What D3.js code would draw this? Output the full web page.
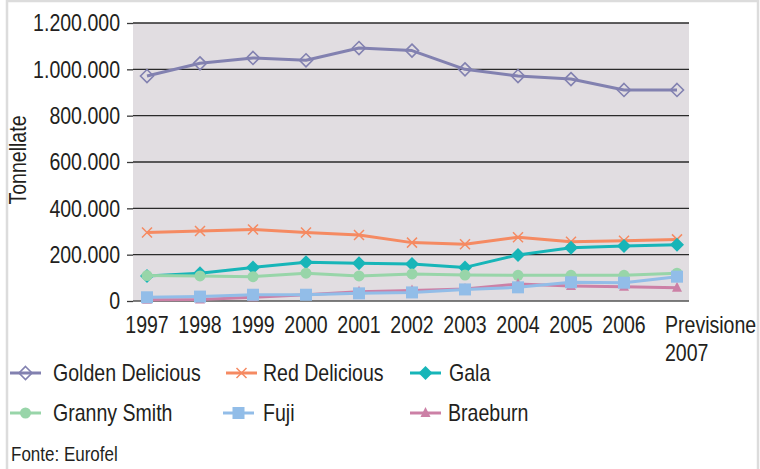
<!DOCTYPE html>
<html><head><meta charset="utf-8">
<script src="https://cdn.jsdelivr.net/npm/d3@7"></script>
<style>
body{margin:0;background:#fff;}
text{font-family:"Liberation Sans",Arial,sans-serif;fill:#231f20;}
</style></head><body>
<svg id="c" width="760" height="469"></svg>
<script>
const categories = ["1997","1998","1999","2000","2001","2002","2003","2004","2005","2006","Previsione 2007"];
const goldenDelicious = [971,1026,1049,1039,1092,1081,1000,971,958,911,911];
const redDelicious    = [296,302,309,296,285,252,245,275,256,260,266];
const gala            = [108,120,145,167,163,160,145,199,230,237,243];
const grannySmith     = [110,108,105,120,108,117,112,111,111,111,120];
const fuji            = [16,19,27,27,33,37,50,59,81,79,105];
const braeburn        = [5,7,16,27,40,45,52,73,65,62,57];
const yTicks = [0,200,400,600,800,1000,1200];
const yTitle = "Tonnellate";
const source = "Fonte: Eurofel";

const series = [
  {name:"Golden Delicious", values:goldenDelicious, color:"#8281b0", marker:"diamondOpen"},
  {name:"Red Delicious", values:redDelicious, color:"#f58a62", marker:"cross"},
  {name:"Gala", values:gala, color:"#17b5b8", marker:"diamond"},
  {name:"Granny Smith", values:grannySmith, color:"#98d5a9", marker:"circle"},
  {name:"Braeburn", values:braeburn, color:"#cc80a6", marker:"triangle"},
  {name:"Fuji", values:fuji, color:"#92bde8", marker:"square"}
];
const legendOrder = ["Golden Delicious","Red Delicious","Gala","Granny Smith","Fuji","Braeburn"];

const SX = 0.85;
const FS = 23;
const svg = d3.select("#c");
function txt(g, x, y, s, size, anchor){
  return g.append("text").attr("transform",`translate(${x},${y}) scale(${SX},1)`)
    .attr("font-size",size).attr("text-anchor",anchor||"start").text(s);
}
// outer frame
svg.append("rect").attr("x",7).attr("y",1).attr("width",751).attr("height",470)
  .attr("fill","none").attr("stroke","#dcdcdc").attr("stroke-width",2.5);

const plot = {l:133, r:689, t:23, b:301};
const x = d3.scalePoint().domain(categories).range([plot.l+14, plot.r-12]);
const y = d3.scaleLinear().domain([0,1200]).range([plot.b, plot.t]);

svg.append("rect").attr("x",plot.l).attr("y",plot.t).attr("width",plot.r-plot.l).attr("height",plot.b-plot.t)
  .attr("fill","#e1dde1");

const fmt = v => v===0 ? "0" : d3.format(",")(v*1000).replace(/,/g,".");
const yAxis = svg.append("g").attr("transform",`translate(${plot.l},0)`)
  .call(d3.axisLeft(y).tickValues(yTicks).tickSize(6).tickFormat(fmt));
yAxis.select(".domain").remove();
yAxis.selectAll(".tick line").attr("stroke","#3a3a3a").attr("stroke-width",1.3);
yAxis.selectAll(".tick text").attr("x",-13/SX).attr("font-size",FS).attr("dy","0.34em")
  .attr("transform",`scale(${SX},1)`)
  .style("font-family",'"Liberation Sans",Arial,sans-serif').attr("fill","#231f20");
// gridlines
svg.append("g").selectAll("line").data(yTicks).join("line")
  .attr("x1",plot.l).attr("x2",plot.r).attr("y1",d=>y(d)).attr("y2",d=>y(d))
  .attr("stroke",d=>d===0?"#555":"#2a2a2a").attr("stroke-width",1.4);

// x labels
const xl = svg.append("g");
categories.forEach(c=>{
  const parts = c.split(" ");
  if(parts.length===1){
    txt(xl, x(c), 333, c, FS, "middle");
  } else {
    parts.forEach((p,i)=>txt(xl, x(c)-12, 333+i*28, p, FS));
  }
});

svg.append("text").attr("transform",`translate(26,160) rotate(-90) scale(${SX},1)`).attr("text-anchor","middle")
  .attr("font-size",FS).text(yTitle);

function drawMarker(g, type, color, cx, cy){
  if(type==="diamondOpen"){
    g.append("path").attr("d",`M${cx},${cy-6.5}L${cx+6.5},${cy}L${cx},${cy+6.5}L${cx-6.5},${cy}Z`)
      .attr("fill","none").attr("stroke",color).attr("stroke-width",1.6);
  } else if(type==="diamond"){
    g.append("path").attr("d",`M${cx},${cy-7}L${cx+7},${cy}L${cx},${cy+7}L${cx-7},${cy}Z`).attr("fill",color);
  } else if(type==="cross"){
    g.append("path").attr("d",`M${cx-5},${cy-5}L${cx+5},${cy+5}M${cx-5},${cy+5}L${cx+5},${cy-5}`)
      .attr("stroke",color).attr("stroke-width",1.5);
  } else if(type==="circle"){
    g.append("circle").attr("cx",cx).attr("cy",cy).attr("r",5.5).attr("fill",color);
  } else if(type==="square"){
    g.append("rect").attr("x",cx-6).attr("y",cy-6).attr("width",12).attr("height",12).attr("fill",color);
  } else if(type==="triangle"){
    g.append("path").attr("d",`M${cx},${cy-6}L${cx+5},${cy+4}L${cx-5},${cy+4}Z`).attr("fill",color);
  }
}

const line = d3.line().x((d,i)=>x(categories[i])).y(d=>y(d));
series.forEach(s=>{
  const g = svg.append("g");
  g.append("path").attr("d",line(s.values)).attr("fill","none").attr("stroke",s.color)
    .attr("stroke-width",3).attr("stroke-linejoin","round");
  s.values.forEach((v,i)=>drawMarker(g,s.marker,s.color,x(categories[i]),y(v)));
});

// legend
const legPos = [[10,373],[226,373],[410,373],[10,413],[223,413],[410,413]];
const legText = [53,263,449,53,263,448];
legendOrder.forEach((n,i)=>{
  const s = series.find(d=>d.name===n);
  const [lx,ly] = legPos[i];
  const g = svg.append("g");
  g.append("line").attr("x1",lx).attr("x2",lx+31).attr("y1",ly).attr("y2",ly).attr("stroke",s.color).attr("stroke-width",3);
  drawMarker(g,s.marker,s.color,lx+15.5,ly);
  txt(g, legText[i], ly+8, n, FS);
});

txt(svg, 11, 461, source, 20);
</script>
</body></html>
